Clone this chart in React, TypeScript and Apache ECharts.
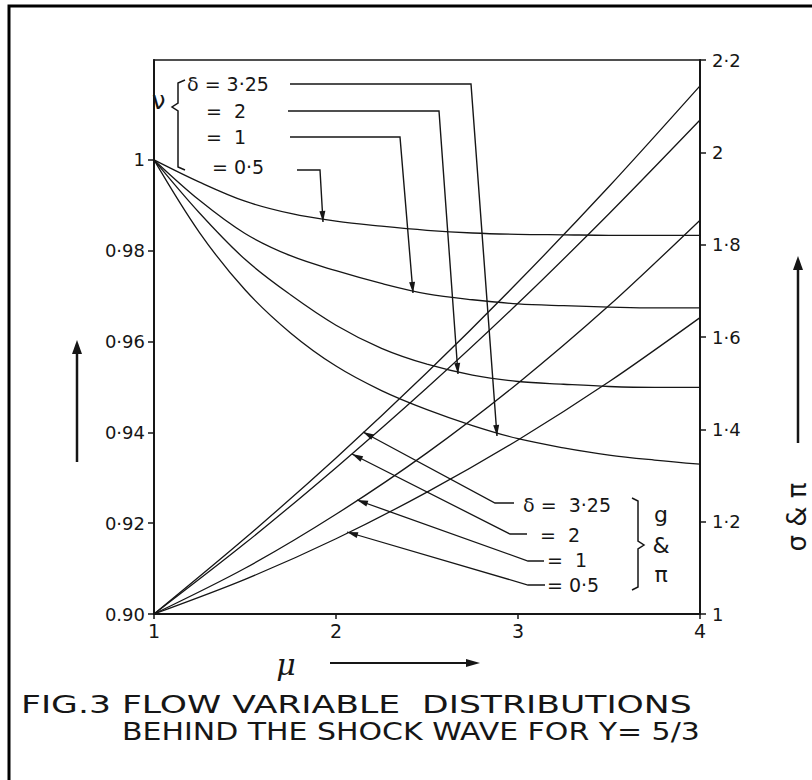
import React, { useEffect, useRef } from "react";
import * as echarts from "echarts";

// ---- data ----
const MU = [1, 1.25, 1.5, 1.75, 2, 2.25, 2.5, 2.75, 3, 3.25, 3.5, 3.75, 4];
const NU_D325 = [1.0, 0.984, 0.9714, 0.9619, 0.9546, 0.9492, 0.945, 0.9415, 0.9386, 0.9366, 0.935, 0.9339, 0.933];
const NU_D2 = [1.0, 0.9883, 0.9781, 0.9703, 0.9636, 0.9585, 0.955, 0.9526, 0.9512, 0.9506, 0.9501, 0.9499, 0.9499];
const NU_D1 = [1.0, 0.9911, 0.9838, 0.9789, 0.9756, 0.9728, 0.9705, 0.9692, 0.9683, 0.9679, 0.9676, 0.9674, 0.9674];
const NU_D05 = [1.0, 0.9951, 0.9909, 0.9882, 0.9865, 0.9854, 0.9845, 0.9839, 0.9836, 0.9835, 0.9834, 0.9834, 0.9834];

const MU_G = [1, 1.5, 2, 2.5, 3, 3.5, 4];
const G_D325 = [1, 1.164, 1.338, 1.523, 1.719, 1.926, 2.144];
const G_D2 = [1, 1.153, 1.317, 1.49, 1.673, 1.867, 2.07];
const G_D1 = [1, 1.099, 1.216, 1.349, 1.5, 1.668, 1.853];
const G_D05 = [1, 1.075, 1.163, 1.264, 1.377, 1.503, 1.642];

const LEFT_TICKS = [0.9, 0.92, 0.94, 0.96, 0.98, 1];
const RIGHT_TICKS = [1, 1.2, 1.4, 1.6, 1.8, 2, 2.2];
const X_TICKS = [1, 2, 3, 4];
const DELTAS = ["3.25", "2", "1", "0.5"];
const TOP_LEGEND = ["δ = 3·25", "=  2", "=  1", "= 0·5"];
const BOTTOM_LEGEND = ["δ =  3·25", "=  2", "=  1", "= 0·5"];
const CAPTION_1 = "FIG.3 FLOW VARIABLE  DISTRIBUTIONS";
const CAPTION_2 = "BEHIND THE SHOCK WAVE FOR Y= 5/3";

const INK = "#161616";
const FONT = '"DejaVu Sans", sans-serif';

function measure(text: string, font: string): number {
  const c = document.createElement("canvas");
  const ctx = c.getContext("2d");
  if (!ctx) return text.length * 10;
  ctx.font = font;
  return ctx.measureText(text).width;
}

function txt(text: string, x: number, y: number, size: number, extra: any = {}, align = "left") {
  const { style, ...rest } = extra;
  return {
    type: "text",
    x,
    y,
    silent: true,
    ...rest,
    style: {
      text,
      fontSize: size,
      fontFamily: FONT,
      fill: INK,
      align,
      verticalAlign: "middle",
      textAlign: align,
      textVerticalAlign: "middle",
      ...(style || {}),
    },
  };
}

function fitText(text: string, x0: number, x1: number, yc: number, size: number) {
  const w = measure(text, `${size}px ${FONT}`);
  const sx = (x1 - x0) / w;
  return {
    type: "text",
    x: x0,
    y: yc,
    scaleX: sx,
    scaleY: 1,
    silent: true,
    style: {
      text,
      fontSize: size,
      fontFamily: FONT,
      fill: INK,
      align: "left",
      verticalAlign: "middle",
      textAlign: "left",
      textVerticalAlign: "middle",
    },
  };
}

function poly(points: number[][], width = 1.3) {
  return {
    type: "polyline",
    silent: true,
    shape: { points },
    style: { stroke: INK, lineWidth: width, fill: "none" },
  };
}

function head(tip: number[], from: number[], len = 10, half = 3) {
  const dx = tip[0] - from[0];
  const dy = tip[1] - from[1];
  const L = Math.hypot(dx, dy) || 1;
  const ux = dx / L;
  const uy = dy / L;
  const bx = tip[0] - ux * len;
  const by = tip[1] - uy * len;
  return {
    type: "polygon",
    silent: true,
    shape: {
      points: [
        [tip[0], tip[1]],
        [bx - uy * half, by + ux * half],
        [bx + uy * half, by - ux * half],
      ],
    },
    style: { fill: INK },
  };
}

export default function App() {
  const ref = useRef<HTMLDivElement>(null);

  useEffect(() => {
    if (!ref.current) return;
    const chart = echarts.init(ref.current, null, { renderer: "svg" });

    const nuSeries = [NU_D325, NU_D2, NU_D1, NU_D05].map((arr, i) => ({
      type: "line",
      name: "ν δ=" + DELTAS[i],
      xAxisIndex: 0,
      yAxisIndex: 0,
      data: MU.map((m, j) => [m, arr[j]]),
      smooth: 0.35,
      symbol: "none",
      silent: true,
      lineStyle: { color: INK, width: 1.3 },
      z: 3,
    }));
    const gSeries = [G_D325, G_D2, G_D1, G_D05].map((arr, i) => ({
      type: "line",
      name: "g&π δ=" + DELTAS[i],
      xAxisIndex: 0,
      yAxisIndex: 1,
      data: MU_G.map((m, j) => [m, arr[j]]),
      smooth: 0.3,
      symbol: "none",
      silent: true,
      lineStyle: { color: INK, width: 1.3 },
      z: 3,
    }));

    // --- annotations ---
    const g: any[] = [];
    // page frame
    g.push({
      type: "rect",
      silent: true,
      shape: { x: 9, y: 6, width: 900, height: 900 },
      style: { fill: "none", stroke: "#000", lineWidth: 3 },
    });

    // top legend (ν)
    g.push(txt("ν", 152, 101, 24));
    g.push(poly([[185, 80], [178, 83], [178, 103], [172, 107], [178, 111], [178, 167], [185, 170]], 1.5));
    g.push(txt(TOP_LEGEND[0], 187, 84, 19));
    g.push(txt(TOP_LEGEND[1], 206, 111, 19));
    g.push(txt(TOP_LEGEND[2], 206, 137, 19));
    g.push(txt(TOP_LEGEND[3], 212, 167, 19));
    const topLeaders = [
      [[290, 84], [471, 84], [497, 436]],
      [[288, 111], [439, 111], [458, 374]],
      [[290, 137], [400, 137], [413, 293]],
      [[297, 170], [320, 170], [323, 222]],
    ];
    topLeaders.forEach((pts) => {
      g.push(poly(pts, 1.4));
      g.push(head(pts[2], pts[1], 11, 3));
    });

    // bottom legend (g & π)
    g.push(txt(BOTTOM_LEGEND[0], 523, 505, 19));
    g.push(txt(BOTTOM_LEGEND[1], 540, 535, 19));
    g.push(txt(BOTTOM_LEGEND[2], 547, 560, 19));
    g.push(txt(BOTTOM_LEGEND[3], 547, 585, 19));
    g.push(poly([[632, 498], [638, 501], [638, 541], [644, 545], [638, 549], [638, 587], [632, 590]], 1.5));
    g.push(txt("g", 661, 514, 22, {}, "center"));
    g.push(txt("&", 661, 545, 22, {}, "center"));
    g.push(txt("π", 661, 574, 22, {}, "center"));
    const botLeaders = [
      [[363, 432], [495, 503], [514, 503]],
      [[352, 454], [510, 534], [527, 534]],
      [[357, 500], [528, 561], [544, 561]],
      [[347, 532], [528, 585], [545, 585]],
    ];
    botLeaders.forEach((pts) => {
      g.push(poly(pts, 1.3));
      g.push(head(pts[0], pts[1], 11, 3));
    });

    // side arrows
    g.push(poly([[77, 462], [77, 350]], 2.5));
    g.push(head([77, 340], [77, 462], 14, 5));
    g.push(poly([[798, 443], [798, 266]], 2.5));
    g.push(head([798, 256], [798, 443], 14, 5));

    // right-hand quantity label
    g.push(txt("σ & π", 797, 517, 26, { rotation: Math.PI / 2 }, "center"));

    // μ axis title
    g.push(txt("μ", 286, 664, 30, { style: { fontFamily: '"DejaVu Serif", serif', fontStyle: "italic" } }, "center"));
    g.push(poly([[330, 663], [468, 663]], 2));
    g.push(head([480, 663], [330, 663], 14, 4));

    // caption
    g.push(fitText(CAPTION_1, 21, 692, 704, 25));
    g.push(fitText(CAPTION_2, 122, 700, 731, 25));

    const axisFont = { fontFamily: FONT, color: INK };

    const option: any = {
      animation: false,
      backgroundColor: "#ffffff",
      grid: {
        show: true,
        left: 154,
        right: 112,
        top: 60,
        bottom: 166,
        borderColor: INK,
        borderWidth: 1.6,
        backgroundColor: "transparent",
        containLabel: false,
      },
      xAxis: {
        type: "value",
        min: 1,
        max: 4,
        interval: 1,
        axisLine: { show: true, lineStyle: { color: INK, width: 2 } },
        axisTick: { show: true, length: 5, lineStyle: { color: INK, width: 1.5 } },
        axisLabel: {
          ...axisFont,
          fontSize: 19,
          margin: 7,
          customValues: X_TICKS,
          formatter: (v: number) => String(Math.round(v)),
        },
        splitLine: { show: false },
      },
      yAxis: [
        {
          type: "value",
          position: "left",
          min: 0.9,
          max: 1.022,
          interval: 0.02,
          axisLine: { show: true, onZero: false, lineStyle: { color: INK, width: 2 } },
          axisTick: { show: true, length: 6, customValues: LEFT_TICKS, lineStyle: { color: INK, width: 1.5 } },
          axisLabel: {
            ...axisFont,
            fontSize: 18,
            margin: 9,
            customValues: LEFT_TICKS,
            formatter: (v: number) => {
              if (v > 1.001) return "";
              if (Math.abs(v - 1) < 1e-6) return "1";
              if (Math.abs(v - 0.9) < 1e-6) return "0.90";
              return v.toFixed(2).replace(".", "·");
            },
          },
          splitLine: { show: false },
        },
        {
          type: "value",
          position: "right",
          min: 1,
          max: 2.2,
          interval: 0.2,
          axisLine: { show: true, onZero: false, lineStyle: { color: INK, width: 2 } },
          axisTick: { show: true, length: 6, customValues: RIGHT_TICKS, lineStyle: { color: INK, width: 1.5 } },
          axisLabel: {
            ...axisFont,
            fontSize: 18,
            margin: 12,
            customValues: RIGHT_TICKS,
            formatter: (v: number) =>
              Math.abs(v - Math.round(v)) < 1e-6 ? String(Math.round(v)) : v.toFixed(1).replace(".", "·"),
          },
          splitLine: { show: false },
        },
      ],
      series: [...nuSeries, ...gSeries],
      graphic: g,
    };

    chart.setOption(option);
    return () => {
      chart.dispose();
    };
  }, []);

  return (
    <div
      ref={ref}
      style={{ position: "absolute", left: 0, top: 0, width: 812, height: 780, background: "#fff" }}
    />
  );
}
